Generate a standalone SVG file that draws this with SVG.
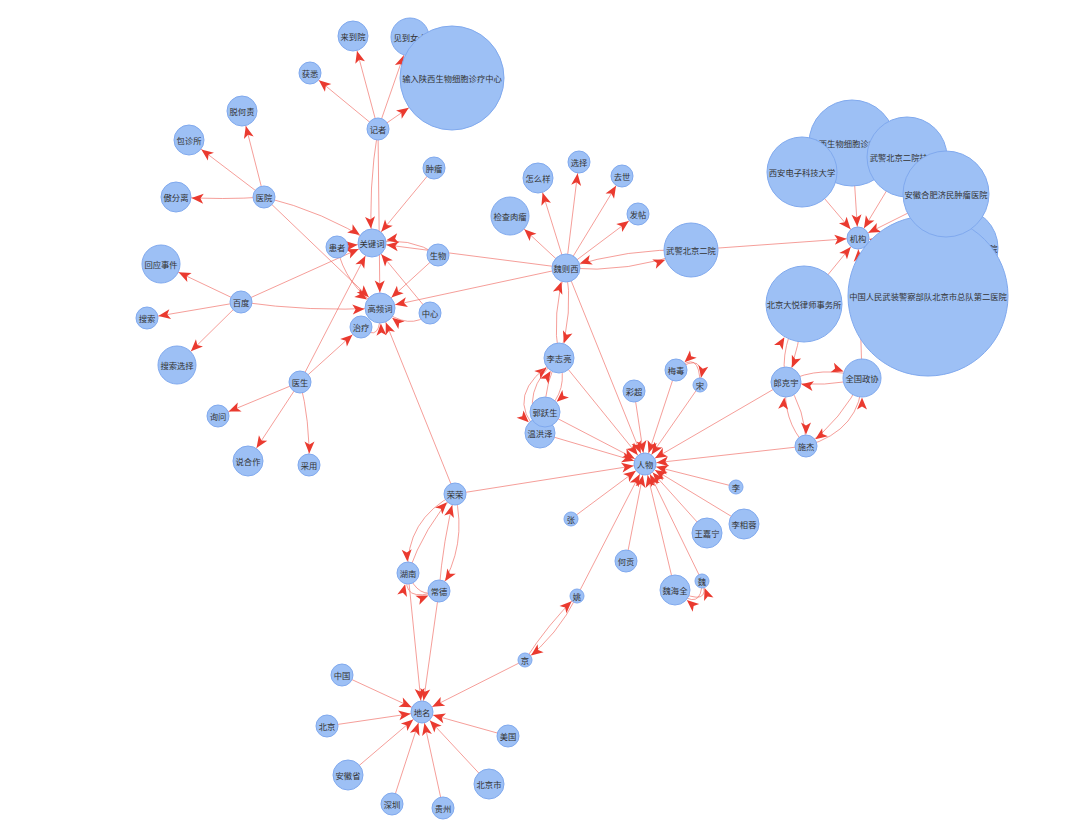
<svg xmlns="http://www.w3.org/2000/svg" width="1080" height="830" viewBox="0 0 1080 830">
<style>
.n circle{fill:#9dc0f5;stroke:#80a9ee;stroke-width:1}
.n text{font-family:"Noto Sans CJK SC","Noto Sans",sans-serif;font-size:8.3px;fill:#333;text-anchor:middle;dominant-baseline:central}
#edges path{fill:none;stroke:#f06a62;stroke-width:1;stroke-opacity:0.65}
marker path{fill:#ea3a2f;stroke:none}
</style>
<defs>
<marker id="a7" markerUnits="userSpaceOnUse" markerWidth="12" markerHeight="10" refX="7.5" refY="0" orient="auto" overflow="visible"><path d="M0,0 L-12,-5 L-9,0 L-12,5 Z"/></marker>
<marker id="a11" markerUnits="userSpaceOnUse" markerWidth="12" markerHeight="10" refX="11.5" refY="0" orient="auto" overflow="visible"><path d="M0,0 L-12,-5 L-9,0 L-12,5 Z"/></marker>
<marker id="a14" markerUnits="userSpaceOnUse" markerWidth="12" markerHeight="10" refX="14.5" refY="0" orient="auto" overflow="visible"><path d="M0,0 L-12,-5 L-9,0 L-12,5 Z"/></marker>
<marker id="a15" markerUnits="userSpaceOnUse" markerWidth="12" markerHeight="10" refX="15.5" refY="0" orient="auto" overflow="visible"><path d="M0,0 L-12,-5 L-9,0 L-12,5 Z"/></marker>
<marker id="a19" markerUnits="userSpaceOnUse" markerWidth="12" markerHeight="10" refX="19.5" refY="0" orient="auto" overflow="visible"><path d="M0,0 L-12,-5 L-9,0 L-12,5 Z"/></marker>
<marker id="a27" markerUnits="userSpaceOnUse" markerWidth="12" markerHeight="10" refX="27.5" refY="0" orient="auto" overflow="visible"><path d="M0,0 L-12,-5 L-9,0 L-12,5 Z"/></marker>
<marker id="a38" markerUnits="userSpaceOnUse" markerWidth="12" markerHeight="10" refX="38.5" refY="0" orient="auto" overflow="visible"><path d="M0,0 L-12,-5 L-9,0 L-12,5 Z"/></marker>
<marker id="a52" markerUnits="userSpaceOnUse" markerWidth="12" markerHeight="10" refX="52.5" refY="0" orient="auto" overflow="visible"><path d="M0,0 L-12,-5 L-9,0 L-12,5 Z"/></marker>
</defs>
<rect width="1080" height="830" fill="#fff"/>
<g id="edges">
<path d="M378,129 L310,73" marker-end="url(#a11)"/>
<path d="M378,129 L353,36" marker-end="url(#a15)"/>
<path d="M378,129 L410,37" marker-end="url(#a19)"/>
<path d="M378,129 L452,78" marker-end="url(#a52)"/>
<path d="M378,129 Q368,190 372,243" marker-end="url(#a14)"/>
<path d="M378,129 L380,308" marker-end="url(#a15)"/>
<path d="M434,168 L372,243" marker-end="url(#a14)"/>
<path d="M264,197 L242,111" marker-end="url(#a15)"/>
<path d="M264,197 L189,140" marker-end="url(#a15)"/>
<path d="M264,197 Q225,200 176,197" marker-end="url(#a15)"/>
<path d="M264,197 Q325,212 372,243" marker-end="url(#a14)"/>
<path d="M264,197 L380,308" marker-end="url(#a15)"/>
<path d="M337,247 L372,243" marker-end="url(#a14)"/>
<path d="M337,247 Q345,285 380,308" marker-end="url(#a15)"/>
<path d="M241,302 L161,264" marker-end="url(#a19)"/>
<path d="M241,302 L147,318" marker-end="url(#a11)"/>
<path d="M241,302 L177,365" marker-end="url(#a19)"/>
<path d="M241,302 L372,243" marker-end="url(#a14)"/>
<path d="M241,302 Q310,312 380,308" marker-end="url(#a15)"/>
<path d="M300,382 L372,243" marker-end="url(#a14)"/>
<path d="M300,382 L361,327" marker-end="url(#a11)"/>
<path d="M300,382 L218,416" marker-end="url(#a11)"/>
<path d="M300,382 L248,461" marker-end="url(#a15)"/>
<path d="M300,382 Q310,420 309,465" marker-end="url(#a11)"/>
<path d="M438,255 Q410,236 372,243" marker-end="url(#a14)"/>
<path d="M438,255 L380,308" marker-end="url(#a15)"/>
<path d="M430,313 L372,243" marker-end="url(#a14)"/>
<path d="M430,313 Q410,332 380,308" marker-end="url(#a15)"/>
<path d="M361,327 Q382,345 380,308" marker-end="url(#a15)"/>
<path d="M455,494 L380,308" marker-end="url(#a15)"/>
<path d="M566,268 L372,243" marker-end="url(#a14)"/>
<path d="M566,268 L380,308" marker-end="url(#a15)"/>
<path d="M566,268 L510,216" marker-end="url(#a19)"/>
<path d="M566,268 L538,178" marker-end="url(#a15)"/>
<path d="M566,268 L579,162" marker-end="url(#a11)"/>
<path d="M566,268 L622,176" marker-end="url(#a11)"/>
<path d="M566,268 L638,214" marker-end="url(#a11)"/>
<path d="M566,268 Q628,274 691,250" marker-end="url(#a27)"/>
<path d="M691,250 Q628,248 566,268" marker-end="url(#a14)"/>
<path d="M691,250 L858,238" marker-end="url(#a11)"/>
<path d="M566,268 Q574,313 559,358" marker-end="url(#a15)"/>
<path d="M559,358 Q551,313 566,268" marker-end="url(#a14)"/>
<path d="M566,268 L645,464" marker-end="url(#a11)"/>
<path d="M559,358 L645,464" marker-end="url(#a11)"/>
<path d="M540,433 Q518,390 559,358" marker-end="url(#a15)"/>
<path d="M545,412 Q545,380 559,358" marker-end="url(#a15)"/>
<path d="M559,358 Q570,390 545,412" marker-end="url(#a15)"/>
<path d="M559,358 Q500,395 540,433" marker-end="url(#a15)"/>
<path d="M545,412 L645,464" marker-end="url(#a11)"/>
<path d="M540,433 L645,464" marker-end="url(#a11)"/>
<path d="M634,391 L645,464" marker-end="url(#a11)"/>
<path d="M676,370 L645,464" marker-end="url(#a11)"/>
<path d="M700,385 L645,464" marker-end="url(#a11)"/>
<path d="M676,370 Q706,350 700,385" marker-end="url(#a7)"/>
<path d="M700,385 Q700,348 676,370" marker-end="url(#a11)"/>
<path d="M786,382 L645,464" marker-end="url(#a11)"/>
<path d="M806,446 L645,464" marker-end="url(#a11)"/>
<path d="M736,487 L645,464" marker-end="url(#a11)"/>
<path d="M744,524 L645,464" marker-end="url(#a11)"/>
<path d="M707,533 L645,464" marker-end="url(#a11)"/>
<path d="M702,581 L645,464" marker-end="url(#a11)"/>
<path d="M675,590 L645,464" marker-end="url(#a11)"/>
<path d="M626,561 L645,464" marker-end="url(#a11)"/>
<path d="M571,519 L645,464" marker-end="url(#a11)"/>
<path d="M577,596 L645,464" marker-end="url(#a11)"/>
<path d="M455,494 L645,464" marker-end="url(#a11)"/>
<path d="M702,581 Q702,613 675,590" marker-end="url(#a15)"/>
<path d="M675,590 Q712,608 702,581" marker-end="url(#a7)"/>
<path d="M852,143 L858,238" marker-end="url(#a11)"/>
<path d="M907,157 L858,238" marker-end="url(#a11)"/>
<path d="M802,172 L858,238" marker-end="url(#a11)"/>
<path d="M946,194 L858,238" marker-end="url(#a11)"/>
<path d="M804,304 L858,238" marker-end="url(#a11)"/>
<path d="M928,296 L858,238" marker-end="url(#a11)"/>
<path d="M958,248 L858,238" marker-end="url(#a11)"/>
<path d="M862,378 L858,238" marker-end="url(#a11)"/>
<path d="M786,382 Q778,348 804,304" marker-end="url(#a38)"/>
<path d="M804,304 Q800,348 786,382" marker-end="url(#a15)"/>
<path d="M786,382 Q822,364 862,378" marker-end="url(#a19)"/>
<path d="M862,378 Q825,388 786,382" marker-end="url(#a15)"/>
<path d="M786,382 Q806,410 806,446" marker-end="url(#a11)"/>
<path d="M806,446 Q782,420 786,382" marker-end="url(#a15)"/>
<path d="M862,378 Q842,420 806,446" marker-end="url(#a11)"/>
<path d="M806,446 Q862,430 862,378" marker-end="url(#a19)"/>
<path d="M455,494 Q405,520 408,573" marker-end="url(#a11)"/>
<path d="M408,573 Q425,525 455,494" marker-end="url(#a11)"/>
<path d="M439,591 Q443,540 455,494" marker-end="url(#a11)"/>
<path d="M455,494 Q468,545 439,591" marker-end="url(#a11)"/>
<path d="M408,573 Q418,600 439,591" marker-end="url(#a11)"/>
<path d="M439,591 Q400,604 408,573" marker-end="url(#a11)"/>
<path d="M408,573 L422,712" marker-end="url(#a11)"/>
<path d="M439,591 L422,712" marker-end="url(#a11)"/>
<path d="M525,660 L422,712" marker-end="url(#a11)"/>
<path d="M342,675 L422,712" marker-end="url(#a11)"/>
<path d="M327,726 L422,712" marker-end="url(#a11)"/>
<path d="M508,736 L422,712" marker-end="url(#a11)"/>
<path d="M348,775 L422,712" marker-end="url(#a11)"/>
<path d="M392,804 L422,712" marker-end="url(#a11)"/>
<path d="M443,808 L422,712" marker-end="url(#a11)"/>
<path d="M489,784 L422,712" marker-end="url(#a11)"/>
<path d="M525,660 Q548,624 577,596" marker-end="url(#a7)"/>
<path d="M577,596 Q557,636 525,660" marker-end="url(#a7)"/>
</g>
<g id="nodes">
<g id="n-jizhe" class="n"><circle cx="378" cy="129" r="11"/><text x="378" y="129">记者</text></g>
<g id="n-huoxi" class="n"><circle cx="310" cy="73" r="11"/><text x="310" y="73">获悉</text></g>
<g id="n-laidaoyuan" class="n"><circle cx="353" cy="36" r="15"/><text x="353" y="36">来到院</text></g>
<g id="n-jiandaonvshi" class="n"><circle cx="410" cy="37" r="19"/><text x="410" y="37">见到女士</text></g>
<g id="n-shuru" class="n"><circle cx="452" cy="78" r="52"/><text x="452" y="78">输入陕西生物细胞诊疗中心</text></g>
<g id="n-zhongliu" class="n"><circle cx="434" cy="168" r="11"/><text x="434" y="168">肿瘤</text></g>
<g id="n-guanjianci" class="n"><circle cx="372" cy="243" r="14"/><text x="372" y="243">关键词</text></g>
<g id="n-huanzhe" class="n"><circle cx="337" cy="247" r="11"/><text x="337" y="247">患者</text></g>
<g id="n-shengwu" class="n"><circle cx="438" cy="255" r="11"/><text x="438" y="255">生物</text></g>
<g id="n-gaopinci" class="n"><circle cx="380" cy="308" r="15"/><text x="380" y="308">高频词</text></g>
<g id="n-zhongxin" class="n"><circle cx="430" cy="313" r="11"/><text x="430" y="313">中心</text></g>
<g id="n-zhiliao" class="n"><circle cx="361" cy="327" r="11"/><text x="361" y="327">治疗</text></g>
<g id="n-yiyuan" class="n"><circle cx="264" cy="197" r="11"/><text x="264" y="197">医院</text></g>
<g id="n-tuohe" class="n"><circle cx="242" cy="111" r="15"/><text x="242" y="111">脱何责</text></g>
<g id="n-baozhen" class="n"><circle cx="189" cy="140" r="15"/><text x="189" y="140">包诊所</text></g>
<g id="n-aofen" class="n"><circle cx="176" cy="197" r="15"/><text x="176" y="197">傲分离</text></g>
<g id="n-baidu" class="n"><circle cx="241" cy="302" r="11"/><text x="241" y="302">百度</text></g>
<g id="n-huiying" class="n"><circle cx="161" cy="264" r="19"/><text x="161" y="264">回应事件</text></g>
<g id="n-sousuo" class="n"><circle cx="147" cy="318" r="11"/><text x="147" y="318">搜索</text></g>
<g id="n-sousuoxuanze" class="n"><circle cx="177" cy="365" r="19"/><text x="177" y="365">搜索选择</text></g>
<g id="n-yisheng" class="n"><circle cx="300" cy="382" r="11"/><text x="300" y="382">医生</text></g>
<g id="n-xunwen" class="n"><circle cx="218" cy="416" r="11"/><text x="218" y="416">询问</text></g>
<g id="n-shuohezuo" class="n"><circle cx="248" cy="461" r="15"/><text x="248" y="461">说合作</text></g>
<g id="n-caiyong" class="n"><circle cx="309" cy="465" r="11"/><text x="309" y="465">采用</text></g>
<g id="n-weizexi" class="n"><circle cx="566" cy="268" r="14"/><text x="566" y="268">魏则西</text></g>
<g id="n-jiancha" class="n"><circle cx="510" cy="216" r="19"/><text x="510" y="216">检查肉瘤</text></g>
<g id="n-zenmeyang" class="n"><circle cx="538" cy="178" r="15"/><text x="538" y="178">怎么样</text></g>
<g id="n-xuanze" class="n"><circle cx="579" cy="162" r="11"/><text x="579" y="162">选择</text></g>
<g id="n-qushi" class="n"><circle cx="622" cy="176" r="11"/><text x="622" y="176">去世</text></g>
<g id="n-fatie" class="n"><circle cx="638" cy="214" r="11"/><text x="638" y="214">发帖</text></g>
<g id="n-wujing2" class="n"><circle cx="691" cy="250" r="27"/><text x="691" y="250">武警北京二院</text></g>
<g id="n-lizhiliang" class="n"><circle cx="559" cy="358" r="15"/><text x="559" y="358">李志亮</text></g>
<g id="n-wenhongze" class="n"><circle cx="540" cy="433" r="15"/><text x="540" y="433">温洪泽</text></g>
<g id="n-guoyuesheng" class="n"><circle cx="545" cy="412" r="15"/><text x="545" y="412">郭跃生</text></g>
<g id="n-caichao" class="n"><circle cx="634" cy="391" r="11"/><text x="634" y="391">彩超</text></g>
<g id="n-meidu" class="n"><circle cx="676" cy="370" r="11"/><text x="676" y="370">梅毒</text></g>
<g id="n-song" class="n"><circle cx="700" cy="385" r="7"/><text x="700" y="385">宋</text></g>
<g id="n-renwu" class="n"><circle cx="645" cy="464" r="11"/><text x="645" y="464">人物</text></g>
<g id="n-shaanxi" class="n"><circle cx="852" cy="143" r="43"/><text x="852" y="143">陕西生物细胞诊疗中心</text></g>
<g id="n-guahao" class="n"><circle cx="907" cy="157" r="40"/><text x="907" y="157">武警北京二院挂号处</text></g>
<g id="n-xidian" class="n"><circle cx="802" cy="172" r="35"/><text x="802" y="172">西安电子科技大学</text></g>
<g id="n-zongdui" class="n"><circle cx="958" cy="248" r="40"/><text x="956" y="248">武警北京总队第二医院</text></g>
<g id="n-zhongguorenmin" class="n"><circle cx="928" cy="296" r="80"/><text x="928" y="296">中国人民武装警察部队北京市总队第二医院</text></g>
<g id="n-anhui" class="n"><circle cx="946" cy="194" r="43"/><text x="946" y="194">安徽合肥济民肿瘤医院</text></g>
<g id="n-jigou" class="n"><circle cx="858" cy="238" r="11"/><text x="858" y="238">机构</text></g>
<g id="n-dayue" class="n"><circle cx="804" cy="304" r="38"/><text x="804" y="304">北京大悦律师事务所</text></g>
<g id="n-langkeyu" class="n"><circle cx="786" cy="382" r="15"/><text x="786" y="382">郎克宇</text></g>
<g id="n-quanguozhengxie" class="n"><circle cx="862" cy="378" r="19"/><text x="862" y="378">全国政协</text></g>
<g id="n-shijie" class="n"><circle cx="806" cy="446" r="11"/><text x="806" y="446">施杰</text></g>
<g id="n-rongrong" class="n"><circle cx="455" cy="494" r="11"/><text x="455" y="494">荣荣</text></g>
<g id="n-hunan" class="n"><circle cx="408" cy="573" r="11"/><text x="408" y="573">湖南</text></g>
<g id="n-changde" class="n"><circle cx="439" cy="591" r="11"/><text x="439" y="591">常德</text></g>
<g id="n-zhang" class="n"><circle cx="571" cy="519" r="7"/><text x="571" y="519">张</text></g>
<g id="n-li" class="n"><circle cx="736" cy="487" r="7"/><text x="736" y="487">李</text></g>
<g id="n-lixiangrong" class="n"><circle cx="744" cy="524" r="15"/><text x="744" y="524">李相蓉</text></g>
<g id="n-wangjianing" class="n"><circle cx="707" cy="533" r="15"/><text x="707" y="533">王嘉宁</text></g>
<g id="n-hegong" class="n"><circle cx="626" cy="561" r="11"/><text x="626" y="561">何贡</text></g>
<g id="n-weihaiquan" class="n"><circle cx="675" cy="590" r="15"/><text x="675" y="590">魏海全</text></g>
<g id="n-wei" class="n"><circle cx="702" cy="581" r="7"/><text x="702" y="581">魏</text></g>
<g id="n-yao" class="n"><circle cx="577" cy="596" r="7"/><text x="577" y="596">姚</text></g>
<g id="n-jing" class="n"><circle cx="525" cy="660" r="7"/><text x="525" y="660">京</text></g>
<g id="n-zhongguo" class="n"><circle cx="342" cy="675" r="11"/><text x="342" y="675">中国</text></g>
<g id="n-beijing" class="n"><circle cx="327" cy="726" r="11"/><text x="327" y="726">北京</text></g>
<g id="n-diming" class="n"><circle cx="422" cy="712" r="11"/><text x="422" y="712">地名</text></g>
<g id="n-meiguo" class="n"><circle cx="508" cy="736" r="11"/><text x="508" y="736">美国</text></g>
<g id="n-anhuisheng" class="n"><circle cx="348" cy="775" r="15"/><text x="348" y="775">安徽省</text></g>
<g id="n-shenzhen" class="n"><circle cx="392" cy="804" r="11"/><text x="392" y="804">深圳</text></g>
<g id="n-guizhou" class="n"><circle cx="443" cy="808" r="11"/><text x="443" y="808">贵州</text></g>
<g id="n-beijingshi" class="n"><circle cx="489" cy="784" r="15"/><text x="489" y="784">北京市</text></g>
</g>
</svg>
